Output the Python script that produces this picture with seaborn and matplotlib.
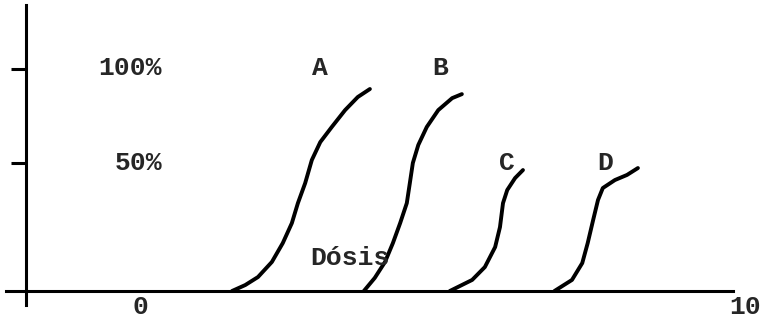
import numpy as np
import pandas as pd
import seaborn as sns
import matplotlib.pyplot as plt

# curves (x = dose, y = response in %)
a_x = [1.52, 1.74, 1.95, 2.18, 2.36, 2.51, 2.61, 2.73, 2.84, 2.98, 3.17, 3.39, 3.60, 3.80]
a_y = [0.0, 2.7, 6.3, 13.1, 21.6, 30.6, 39.6, 48.6, 59.0, 67.1, 73.9, 81.5, 87.4, 91.0]
b_x = [3.70, 3.88, 4.05, 4.18, 4.30, 4.41, 4.46, 4.51, 4.60, 4.74, 4.93, 5.16, 5.32]
b_y = [0.0, 5.9, 13.1, 21.6, 30.6, 39.6, 48.6, 57.7, 65.8, 73.9, 81.5, 86.9, 88.7]
c_x = [5.12, 5.49, 5.70, 5.87, 5.95, 6.00, 6.07, 6.20, 6.33]
c_y = [0.0, 5.0, 10.8, 19.8, 28.8, 39.6, 45.5, 50.9, 54.5]
d_x = [6.85, 7.14, 7.31, 7.40, 7.49, 7.57, 7.65, 7.85, 8.05, 8.23]
d_y = [0.0, 5.0, 12.6, 21.6, 32.0, 41.0, 46.4, 50.0, 52.3, 55.4]

curve_names = ["A", "B", "C", "D"]
label_x = [2.98, 4.96, 6.07, 7.69]
label_y = [100.5, 100.5, 57.7, 57.7]
ytick_pos = [57.7, 100]
xtick_labels = ["0", "10"]

frames = []
for name, xs, ys in zip(curve_names, [a_x, b_x, c_x, d_x], [a_y, b_y, c_y, d_y]):
    frames.append(pd.DataFrame({"dose": xs, "resp": ys, "curve": name}))
df = pd.concat(frames)

sns.set_style("white")
plt.rcParams["font.family"] = ["Liberation Mono", "DejaVu Sans"]
font_txt = {"fontsize": 19, "fontweight": "bold"}

fig = plt.figure(figsize=(7.64, 3.21), dpi=100)
ax = fig.add_axes([0, 0, 1, 1])

sns.lineplot(data=df, x="dose", y="resp", units="curve", estimator=None,
             color="black", linewidth=2.8, sort=False, ax=ax,
             solid_capstyle="round", solid_joinstyle="round")

ax.set_xlim(-2.314, 10.314)
ax.set_ylim(-13.5, 131.1)

for s in ["top", "right"]:
    ax.spines[s].set_visible(False)
ax.spines["left"].set_position(("data", -1.88))
ax.spines["left"].set_bounds(-6.3, 128.8)
ax.spines["bottom"].set_position(("data", 0))
ax.spines["bottom"].set_bounds(-2.21, 9.80)
for s in ["left", "bottom"]:
    ax.spines[s].set_linewidth(2.2)
    ax.spines[s].set_color("black")

ax.set_yticks(ytick_pos)
ax.set_yticklabels([])
ax.tick_params(axis="y", direction="out", length=11, width=2.2, color="black", left=True)
ax.set_xticks([0, 10])
ax.set_xticklabels(xtick_labels, **font_txt)
ax.tick_params(axis="x", length=0, pad=3)
ax.set_xlabel("")
ax.set_ylabel("")

for name, lx, ly in zip(curve_names, label_x, label_y):
    ax.text(lx, ly, name, ha="center", va="center", **font_txt)
ax.text(-0.165, 100.5, "100%", ha="center", va="center", **font_txt)
ax.text(-0.03, 57.7, "50%", ha="center", va="center", **font_txt)
ax.text(3.47, 14.9, "Dósis", ha="center", va="center", **font_txt)

plt.savefig("out.png", dpi=100)
